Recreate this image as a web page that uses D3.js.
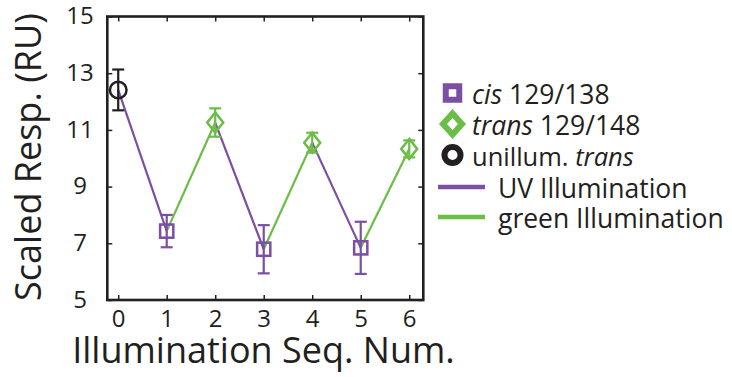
<!DOCTYPE html>
<html>
<head>
<meta charset="utf-8">
<script src="https://cdn.jsdelivr.net/npm/d3@7"></script>
<style>
  body { margin: 0; background: #fff; }
  svg { display: block; }
  text { font-family: "Open Sans", sans-serif; fill: #231f20; }
</style>
</head>
<body>
<svg id="chart" width="732" height="377"></svg>
<script>
// Illumination sequence: step 0 is the unilluminated trans state,
// odd steps follow UV illumination (cis), even steps follow green (trans).
const seqNums   = [0, 1, 2, 3, 4, 5, 6];
const states    = ["unillum", "cis", "trans", "cis", "trans", "cis", "trans"];
const responses = [12.41, 7.43, 11.26, 6.79, 10.55, 6.84, 10.33];
const errors    = [0.72, 0.57, 0.50, 0.85, 0.35, 0.92, 0.30];

const xTicks = [0, 1, 2, 3, 4, 5, 6];
const yTicks = [5, 7, 9, 11, 13, 15];

const xTitle = "Illumination Seq. Num.";
const yTitle = "Scaled Resp. (RU)";

const colors = { cis: "#7b4fa1", trans: "#6abd45", unillum: "#231f20" };
const ink = "#231f20";

const svg = d3.select("#chart");

const plotL = 107.3, plotR = 423.3, plotT = 16.5, plotB = 300;
const x = d3.scaleLinear().domain([-0.225, 6.29]).range([plotL, plotR]);
const y = d3.scaleLinear().domain([5, 15]).range([plotB, plotT]);

// Inward ticks on all four sides
const tickStyle = g => {
  g.select(".domain").remove();
  g.selectAll(".tick line").attr("stroke", ink).attr("stroke-width", 1.5);
};

svg.append("g")
  .attr("transform", `translate(0,${plotB})`)
  .call(d3.axisBottom(x).tickValues(xTicks).tickSize(-5).tickPadding(10).tickFormat(d3.format("d")))
  .call(tickStyle)
  .call(g => g.selectAll("text")
      .attr("fill", ink).attr("font-size", 24).attr("font-family", "\"Open Sans\", sans-serif"));

svg.append("g")
  .attr("transform", `translate(0,${plotT})`)
  .call(d3.axisTop(x).tickValues(xTicks).tickSize(-5).tickFormat(""))
  .call(tickStyle);

svg.append("g")
  .attr("transform", `translate(${plotL},0)`)
  .call(d3.axisLeft(y).tickValues(yTicks).tickSize(-5).tickFormat(d3.format("d")))
  .call(tickStyle)
  .call(g => g.selectAll("text")
      .attr("fill", ink).attr("font-size", 24).attr("font-family", "\"Open Sans\", sans-serif")
      .attr("text-anchor", "middle").attr("x", 80 - plotL).attr("dy", "0.3em"));

svg.append("g")
  .attr("transform", `translate(${plotR},0)`)
  .call(d3.axisRight(y).tickValues(yTicks).tickSize(-5).tickFormat(""))
  .call(tickStyle);

// Plot frame
svg.append("rect")
  .attr("x", plotL).attr("y", plotT)
  .attr("width", plotR - plotL).attr("height", plotB - plotT)
  .attr("fill", "none").attr("stroke", ink).attr("stroke-width", 2.6);

// Connecting segments: coloured by the illumination that produced the next state
const points = seqNums.map((s, i) => ({ s, v: responses[i], e: errors[i], state: states[i] }));
const segments = d3.pairs(points);
svg.append("g").selectAll("line")
  .data(segments)
  .join("line")
  .attr("x1", d => x(d[0].s)).attr("y1", d => y(d[0].v))
  .attr("x2", d => x(d[1].s)).attr("y2", d => y(d[1].v))
  .attr("stroke", d => d[1].state === "cis" ? colors.cis : colors.trans)
  .attr("stroke-width", 2.2);

// Error bars
const capHalf = 6;
const eb = svg.append("g").selectAll("g")
  .data(points)
  .join("g")
  .attr("stroke", d => colors[d.state])
  .attr("stroke-width", 2.2)
  .attr("fill", "none");
eb.append("line")
  .attr("x1", d => x(d.s)).attr("x2", d => x(d.s))
  .attr("y1", d => y(d.v - d.e)).attr("y2", d => y(d.v + d.e));
eb.append("line")
  .attr("x1", d => x(d.s) - capHalf).attr("x2", d => x(d.s) + capHalf)
  .attr("y1", d => y(d.v + d.e)).attr("y2", d => y(d.v + d.e));
eb.append("line")
  .attr("x1", d => x(d.s) - capHalf).attr("x2", d => x(d.s) + capHalf)
  .attr("y1", d => y(d.v - d.e)).attr("y2", d => y(d.v - d.e));

// Marker shapes
function drawMarker(g, state, cx, cy, sz, sw) {
  const c = colors[state];
  if (state === "cis") {
    g.append("rect")
      .attr("x", cx - sz.sq / 2).attr("y", cy - sz.sq / 2)
      .attr("width", sz.sq).attr("height", sz.sq)
      .attr("fill", "none").attr("stroke", c).attr("stroke-width", sw);
  } else if (state === "trans") {
    g.append("path")
      .attr("d", `M${cx},${cy - sz.dh}L${cx + sz.dw},${cy}L${cx},${cy + sz.dh}L${cx - sz.dw},${cy}Z`)
      .attr("fill", "none").attr("stroke", c).attr("stroke-width", sw);
  } else {
    g.append("circle")
      .attr("cx", cx).attr("cy", cy).attr("r", sz.r)
      .attr("fill", "none").attr("stroke", c).attr("stroke-width", sw);
  }
}

const markerG = svg.append("g");
points.forEach(p => drawMarker(markerG, p.state, x(p.s), y(p.v), { sq: 13.2, dw: 8, dh: 10, r: 8.3 }, 2.5));

// Axis titles
svg.append("text")
  .attr("x", 263.5).attr("y", 363)
  .attr("text-anchor", "middle").attr("font-size", 36)
  .text(xTitle);

svg.append("text")
  .attr("transform", "translate(41,157) rotate(-90)")
  .attr("text-anchor", "middle").attr("font-size", 36)
  .text(yTitle);

// Legend
const legendMarkers = ["cis", "trans", "unillum"];
const legendMarkerText = [
  [{ t: "cis", it: true }, { t: " 129/138", it: false }],
  [{ t: "trans", it: true }, { t: " 129/148", it: false }],
  [{ t: "unillum. ", it: false }, { t: "trans", it: true }]
];
const legendLines = ["cis", "trans"];
const legendLineText = ["UV Illumination", "green Illumination"];

const lg = svg.append("g");
legendMarkers.forEach((st, i) => {
  const cy = 93 + i * 31;
  drawMarker(lg, st, 452.5, cy, { sq: 13.5, dw: 9.5, dh: 10.5, r: 8 }, 6);
  const t = lg.append("text").attr("x", 472).attr("y", cy + 10.5)
    .attr("font-size", i === 2 ? 25.5 : 26.5);
  legendMarkerText[i].forEach(seg => {
    t.append("tspan").attr("font-style", seg.it ? "italic" : "normal").text(seg.t);
  });
});
legendLines.forEach((st, i) => {
  const cy = 187 + i * 30;
  lg.append("line")
    .attr("x1", 438).attr("x2", 485).attr("y1", cy).attr("y2", cy)
    .attr("stroke", colors[st]).attr("stroke-width", 4.5);
  lg.append("text").attr("x", 498).attr("y", cy + 10.5).attr("font-size", 26.5).text(legendLineText[i]);
});
</script>
</body>
</html>
